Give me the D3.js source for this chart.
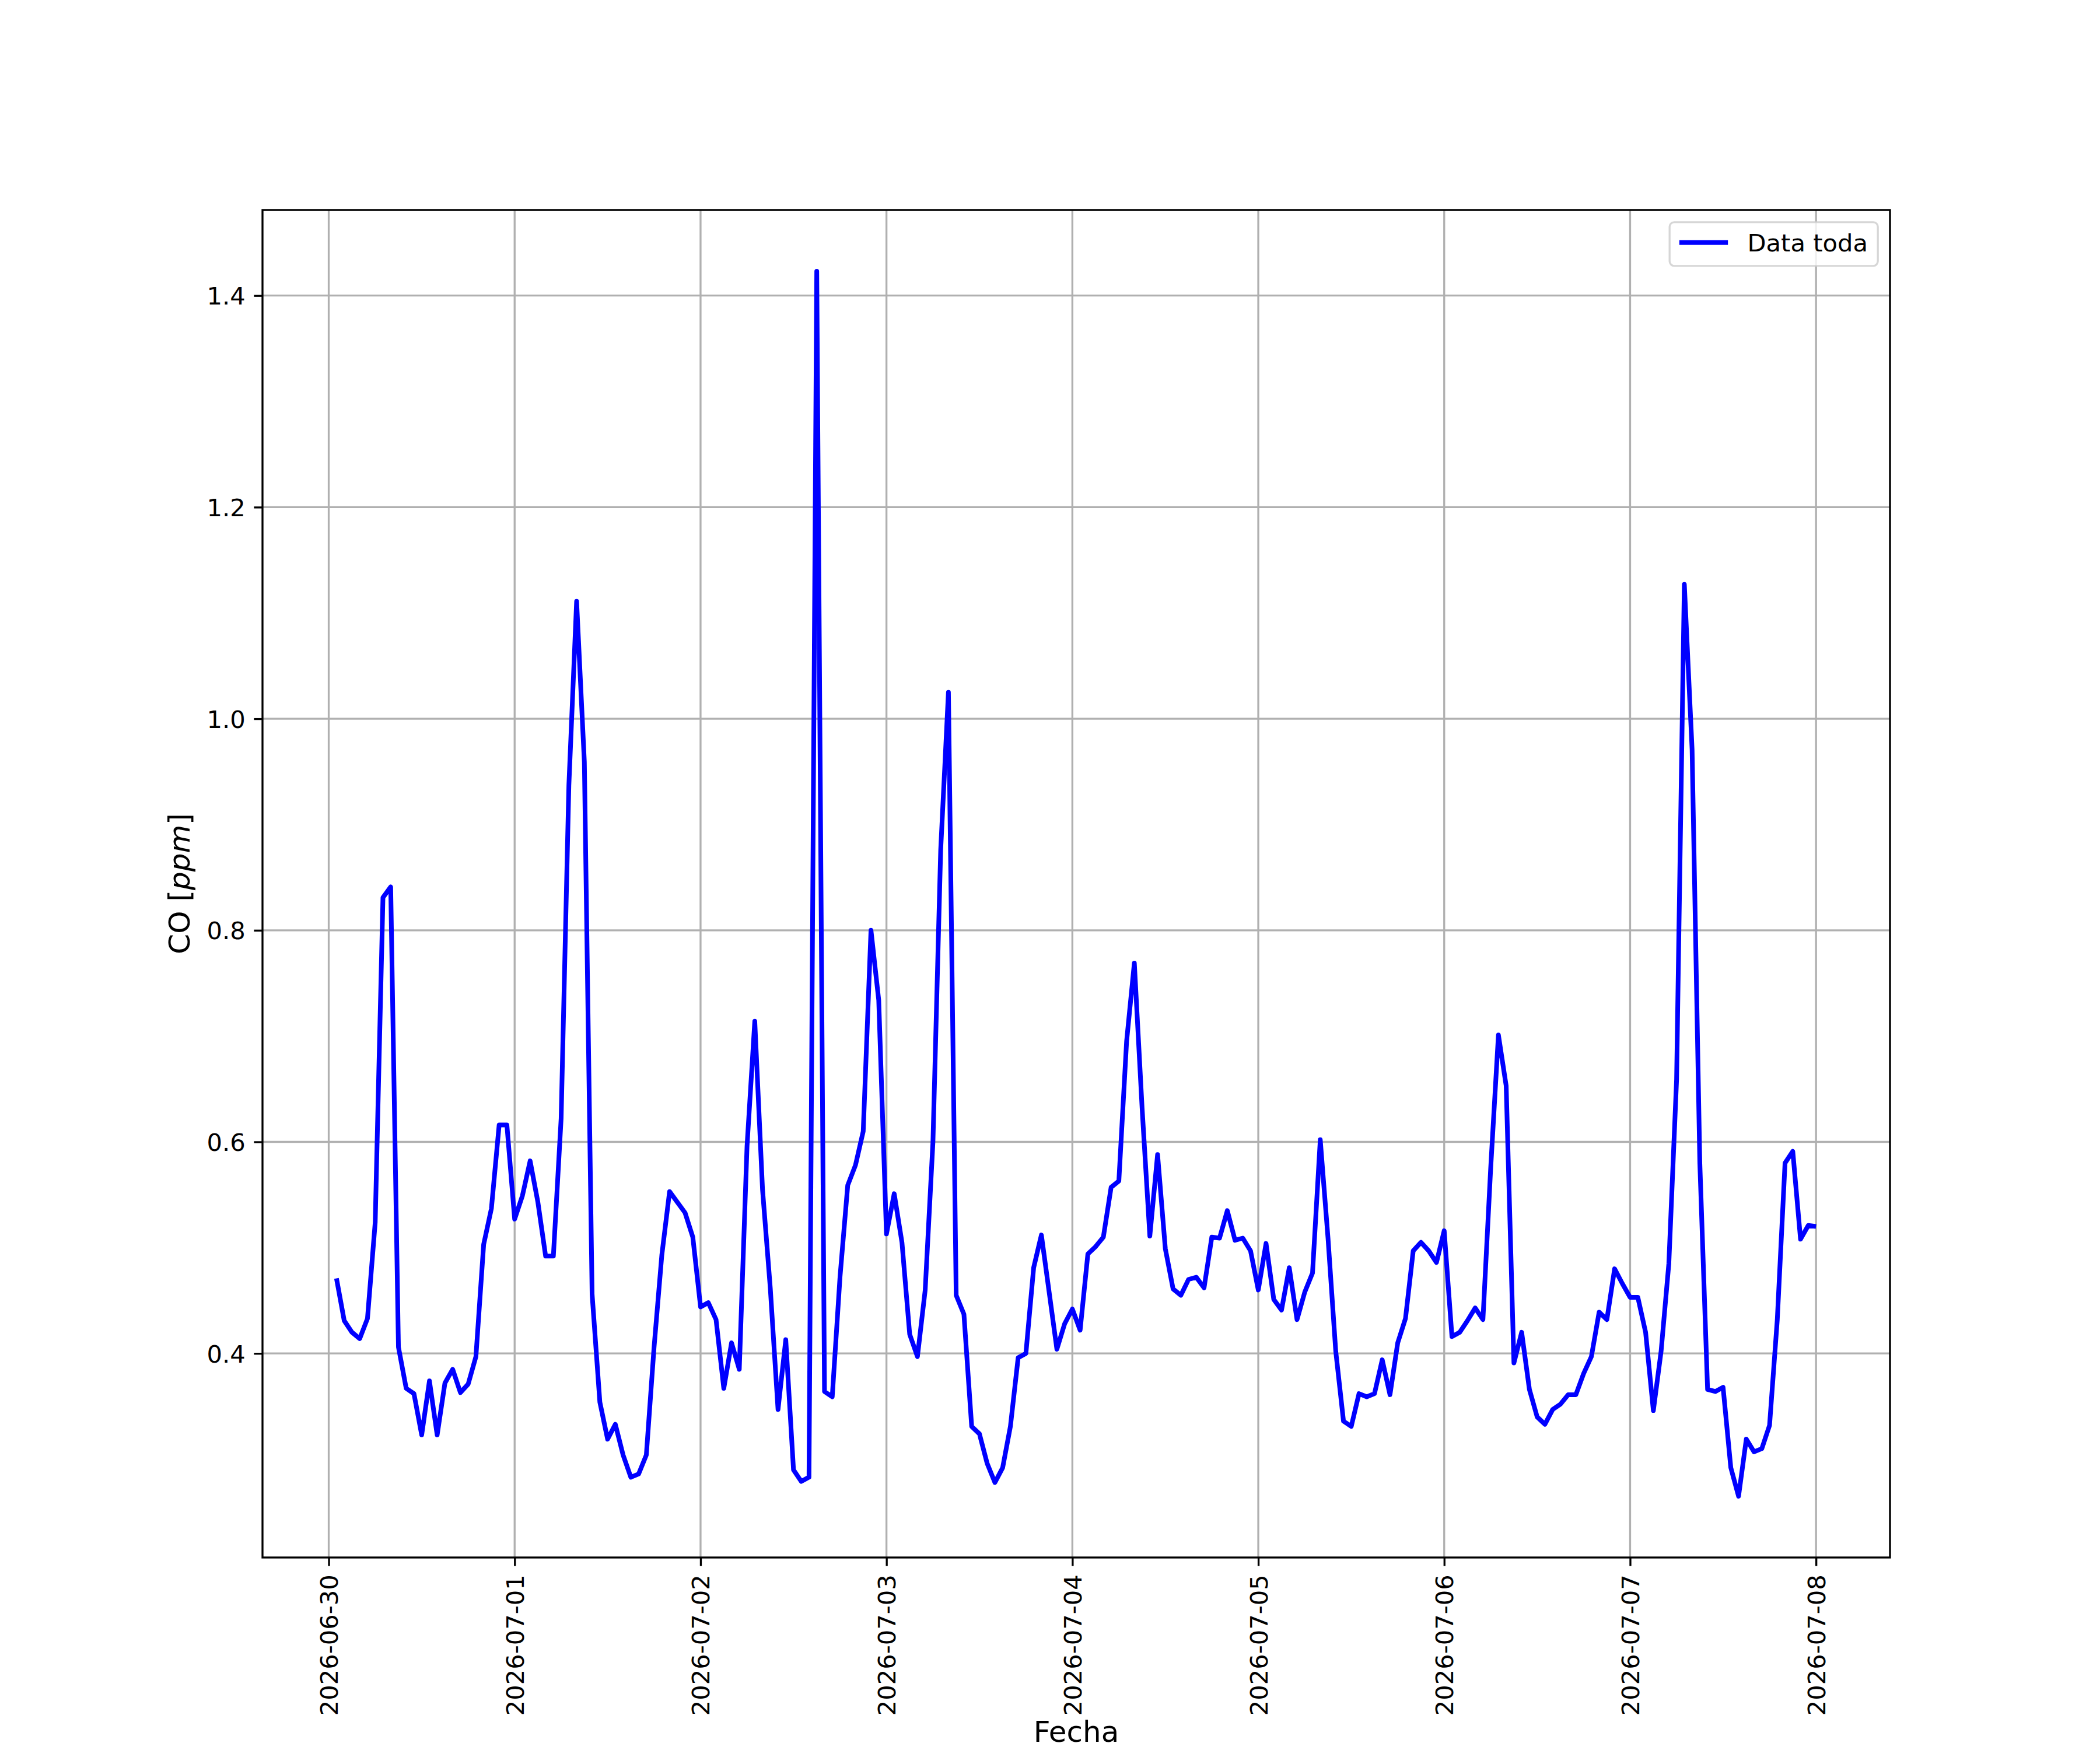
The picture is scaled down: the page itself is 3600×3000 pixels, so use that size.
<!DOCTYPE html>
<html>
<head>
<meta charset="utf-8">
<script src="https://cdn.jsdelivr.net/npm/d3@7"></script>
<style>
  body { margin: 0; background: #fff; }
  svg text { font-family: "DejaVu Sans", sans-serif; }
</style>
</head>
<body>
<svg id="chart"></svg>
<script>
// Hourly CO readings, first sample 2026-06-30 01:00, one value per hour
var startTime = '2026-06-30T01:00:00Z';

var co0630 = [0.471, 0.431, 0.420, 0.414, 0.433, 0.524, 0.831, 0.841, 0.406, 0.367,
  0.362, 0.323, 0.374, 0.323, 0.372, 0.385, 0.363, 0.371, 0.397, 0.503, 0.537,
  0.616, 0.616];
var co0701 = [0.527, 0.549, 0.582, 0.543, 0.492, 0.492, 0.622, 0.937, 1.111, 0.959,
  0.456, 0.354, 0.319, 0.333, 0.304, 0.283, 0.286, 0.304, 0.406, 0.493, 0.553,
  0.543, 0.533, 0.510];
var co0702 = [0.444, 0.448, 0.432, 0.367, 0.410, 0.385, 0.596, 0.714, 0.555, 0.462,
  0.347, 0.413, 0.290, 0.279, 0.283, 1.423, 0.364, 0.359, 0.472, 0.559, 0.578,
  0.610, 0.800, 0.734];
var co0703 = [0.513, 0.551, 0.505, 0.418, 0.397, 0.460, 0.600, 0.876, 1.025, 0.455,
  0.437, 0.331, 0.324, 0.296, 0.278, 0.292, 0.331, 0.396, 0.400, 0.481, 0.512,
  0.458, 0.404, 0.428];
var co0704 = [0.442, 0.422, 0.494, 0.501, 0.510, 0.557, 0.563, 0.695, 0.769, 0.632,
  0.511, 0.588, 0.499, 0.461, 0.455, 0.470, 0.472, 0.462, 0.510, 0.509, 0.535,
  0.507, 0.509, 0.497];
var co0705 = [0.460, 0.504, 0.451, 0.441, 0.481, 0.432, 0.458, 0.476, 0.602, 0.509,
  0.402, 0.336, 0.331, 0.362, 0.359, 0.362, 0.394, 0.361, 0.410, 0.433, 0.497,
  0.505, 0.497, 0.486];
var co0706 = [0.516, 0.416, 0.420, 0.431, 0.443, 0.432, 0.575, 0.701, 0.653, 0.391,
  0.420, 0.366, 0.340, 0.333, 0.347, 0.352, 0.361, 0.361, 0.381, 0.397, 0.439,
  0.432, 0.480, 0.466];
var co0707 = [0.453, 0.453, 0.420, 0.346, 0.402, 0.485, 0.659, 1.127, 0.971, 0.580,
  0.366, 0.364, 0.368, 0.292, 0.265, 0.319, 0.307, 0.310, 0.332, 0.432, 0.580,
  0.591, 0.508, 0.521];
var co0708 = [0.520];

var yTickValues = [0.4, 0.6, 0.8, 1.0, 1.2, 1.4];
var seriesLabel = 'Data toda';

var width = 3600,
  height = 3000,
  plot = {left: 450, right: 3240, top: 360, bottom: 2670},
  tickFont = 41.67,
  labelFont = 50,
  tickLen = 14.6,
  thin = 3.33;

var values = [].concat(co0630, co0701, co0702, co0703, co0704, co0705,
  co0706, co0707, co0708);
var t0 = new Date(startTime);
var data = values.map(function(v, i) {
  return {t: d3.utcHour.offset(t0, i), v: v};
});

var svg = d3.select('#chart')
  .attr('width', width)
  .attr('height', height)
  .attr('viewBox', '0 0 ' + width + ' ' + height);

svg.append('rect').attr('width', width).attr('height', height)
  .attr('fill', '#fff');

// matplotlib style autoscale: 5% margin on both axes
var tExt = d3.extent(data, function(d) { return d.t; });
var tPad = (tExt[1] - tExt[0]) * 0.05;
var x = d3.scaleUtc()
  .domain([new Date(+tExt[0] - tPad), new Date(+tExt[1] + tPad)])
  .range([plot.left, plot.right]);

var vExt = d3.extent(data, function(d) { return d.v; });
var vPad = (vExt[1] - vExt[0]) * 0.05;
var y = d3.scaleLinear()
  .domain([vExt[0] - vPad, vExt[1] + vPad])
  .range([plot.bottom, plot.top]);

var xTicks = d3.utcDay.range(d3.utcDay.ceil(x.domain()[0]), x.domain()[1]);

// Grid
var grid = svg.append('g').attr('class', 'grid')
  .attr('stroke', '#b0b0b0').attr('stroke-width', thin);
grid.selectAll('line.vx')
  .data(xTicks)
  .enter().append('line')
  .attr('class', 'vx')
  .attr('x1', function(d) { return x(d); })
  .attr('x2', function(d) { return x(d); })
  .attr('y1', plot.top).attr('y2', plot.bottom);
grid.selectAll('line.hy')
  .data(yTickValues)
  .enter().append('line')
  .attr('class', 'hy')
  .attr('x1', plot.left).attr('x2', plot.right)
  .attr('y1', function(d) { return y(d); })
  .attr('y2', function(d) { return y(d); });

// Series
var line = d3.line()
  .x(function(d) { return x(d.t); })
  .y(function(d) { return y(d.v); });

svg.append('defs').append('clipPath').attr('id', 'plot-clip')
  .append('rect')
  .attr('x', plot.left).attr('y', plot.top)
  .attr('width', plot.right - plot.left)
  .attr('height', plot.bottom - plot.top);

svg.append('path')
  .datum(data)
  .attr('clip-path', 'url(#plot-clip)')
  .attr('fill', 'none')
  .attr('stroke', '#0000ff')
  .attr('stroke-width', 8)
  .attr('stroke-linejoin', 'round')
  .attr('stroke-linecap', 'butt')
  .attr('d', line);

// Axes
var xAxis = d3.axisBottom(x)
  .tickValues(xTicks)
  .tickFormat(d3.utcFormat('%Y-%m-%d'))
  .tickSize(tickLen)
  .tickPadding(tickLen);

var gx = svg.append('g')
  .attr('transform', 'translate(0,' + plot.bottom + ')')
  .call(xAxis);
gx.select('.domain').remove();
gx.selectAll('.tick line').attr('stroke', '#000').attr('stroke-width', thin);
gx.selectAll('.tick text')
  .attr('fill', '#000')
  .attr('font-size', tickFont)
  .attr('transform', 'rotate(-90)')
  .attr('text-anchor', 'end')
  .attr('x', -(tickLen * 2))
  .attr('y', 0)
  .attr('dy', '0.36em');

var yAxis = d3.axisLeft(y)
  .tickValues(yTickValues)
  .tickFormat(d3.format('.1f'))
  .tickSize(tickLen)
  .tickPadding(tickLen);

var gy = svg.append('g')
  .attr('transform', 'translate(' + plot.left + ',0)')
  .call(yAxis);
gy.select('.domain').remove();
gy.selectAll('.tick line').attr('stroke', '#000').attr('stroke-width', thin);
gy.selectAll('.tick text')
  .attr('fill', '#000')
  .attr('font-size', tickFont)
  .attr('dy', '0.36em');

// Spines
svg.append('rect')
  .attr('x', plot.left).attr('y', plot.top)
  .attr('width', plot.right - plot.left)
  .attr('height', plot.bottom - plot.top)
  .attr('fill', 'none')
  .attr('stroke', '#000')
  .attr('stroke-width', thin);

// Axis labels
svg.append('text')
  .attr('x', (plot.left + plot.right) / 2)
  .attr('y', 2986)
  .attr('text-anchor', 'middle')
  .attr('font-size', labelFont)
  .attr('fill', '#000')
  .text('Fecha');

var yLabel = svg.append('text')
  .attr('transform', 'translate(325,' + (plot.top + plot.bottom) / 2 + ') rotate(-90)')
  .attr('text-anchor', 'middle')
  .attr('font-size', labelFont)
  .attr('fill', '#000');
yLabel.append('tspan').text('CO [');
yLabel.append('tspan').attr('font-style', 'italic').text('ppm');
yLabel.append('tspan').text(']');

// Legend, upper right
var pad = tickFont * 0.5,
  legW = 357,
  legH = 75,
  legX = plot.right - pad - legW,
  legY = plot.top + pad;

var legend = svg.append('g').attr('class', 'legend');
legend.append('rect')
  .attr('x', legX).attr('y', legY)
  .attr('width', legW).attr('height', legH)
  .attr('rx', 8).attr('ry', 8)
  .attr('fill', '#fff').attr('fill-opacity', 0.8)
  .attr('stroke', '#cccccc').attr('stroke-opacity', 0.8)
  .attr('stroke-width', thin);
legend.append('line')
  .attr('x1', legX + 16.7).attr('x2', legX + 16.7 + 83.3)
  .attr('y1', legY + 35).attr('y2', legY + 35)
  .attr('stroke', '#0000ff').attr('stroke-width', 8);
legend.append('text')
  .attr('x', legX + 16.7 + 83.3 + 33.3)
  .attr('y', legY + 35)
  .attr('dy', '0.36em')
  .attr('font-size', tickFont)
  .attr('fill', '#000')
  .text(seriesLabel);
</script>
</body>
</html>
